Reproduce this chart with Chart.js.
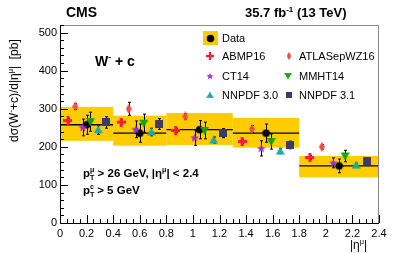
<!DOCTYPE html>
<html>
<head>
<meta charset="utf-8">
<script src="https://cdn.jsdelivr.net/npm/chart.js@4.4.1/dist/chart.umd.min.js"></script>
<style>
  html, body { margin: 0; padding: 0; background: #fff; }
  #wrap { width: 399px; height: 253px; }
</style>
</head>
<body>
<div id="wrap"><canvas id="wcChart" width="399" height="253"></canvas></div>
<script>
// bins in |eta|
var binEdges = [0, 0.4, 0.8, 1.3, 1.8, 2.4];

// measured cross section (pb)
var dataX   = [0.2, 0.6, 1.05, 1.55, 2.1];
var dataY   = [258, 236, 245, 236, 150];
var dataErr = [25, 24, 24, 24, 18];
var bandLo  = [216, 203, 205, 198, 120];
var bandHi  = [305, 282, 289, 276, 176];

// predictions
var abmpX  = [0.06, 0.46, 0.87, 1.37, 1.88];
var abmpY  = [269, 265, 243, 214, 172];
var abmpE  = [6, 6, 6, 6, 5];
var atlasX = [0.116, 0.517, 0.943, 1.444, 1.97];
var atlasY = [306, 300, 280, 247, 200];
var atlasE = [8, 17, 7, 9, 6];
var ct14X  = [0.172, 0.57, 1.013, 1.514, 2.057];
var ct14Y  = [251, 246, 224, 196, 158];
var ct14E  = [22, 22, 20, 20, 13];
var mmhtX  = [0.229, 0.63, 1.088, 1.589, 2.145];
var mmhtY  = [266, 262, 243, 214, 176];
var mmhtE  = [25, 24, 22, 20, 15];
var nn30X  = [0.287, 0.687, 1.156, 1.657, 2.228];
var nn30Y  = [245, 239, 218, 189, 152];
var nn30E  = [12, 10, 8, 7, 5];
var nn31X  = [0.344, 0.745, 1.23, 1.727, 2.313];
var nn31Y  = [264, 260, 236, 205, 163];
var nn31E  = [15, 14, 12, 10, 7];

var FONT = '"Liberation Sans", Arial, Helvetica, sans-serif';

function pts(xs, ys) {
    return xs.map(function (x, i) { return { x: x, y: ys[i] }; });
}

// little canvases used as point styles
function marker(w, h, draw) {
    var c = document.createElement('canvas');
    c.width = w; c.height = h;
    draw(c.getContext('2d'), w, h);
    return c;
}
var mkPlus = marker(9, 9, function (g) {
    g.fillStyle = '#ff1a3c';
    g.fillRect(3, 0, 3, 9);
    g.fillRect(0, 3, 9, 3);
});
var mkDiamond = marker(6, 10, function (g) {
    g.fillStyle = '#f24a4a';
    g.beginPath(); g.moveTo(3, 0); g.lineTo(6, 5); g.lineTo(3, 10); g.lineTo(0, 5); g.closePath(); g.fill();
});
var mkStar = marker(9, 9, function (g) {
    g.fillStyle = '#9a2fd0';
    g.beginPath();
    for (var i = 0; i < 10; i++) {
        var r = i % 2 ? 2 : 4.6;
        var a = -Math.PI / 2 + i * Math.PI / 5;
        g.lineTo(4.5 + r * Math.cos(a), 4.8 + r * Math.sin(a));
    }
    g.closePath(); g.fill();
});
var mkDown = marker(9, 9, function (g) {
    g.fillStyle = '#17a10f';
    g.beginPath(); g.moveTo(0, 1); g.lineTo(9, 1); g.lineTo(4.5, 9); g.closePath(); g.fill();
});
var mkUp = marker(9, 9, function (g) {
    g.fillStyle = '#20aaa4';
    g.beginPath(); g.moveTo(0, 8); g.lineTo(9, 8); g.lineTo(4.5, 0); g.closePath(); g.fill();
});
var mkSquare = marker(8, 8, function (g) {
    g.fillStyle = '#3b3b6b';
    g.fillRect(0, 0, 8, 8);
});
var mkDot = marker(9, 9, function (g) {
    g.fillStyle = '#000';
    g.beginPath(); g.arc(4.5, 4.5, 3.8, 0, Math.PI * 2); g.fill();
});

var series = [
    { label: 'ABMP16', x: abmpX, y: abmpY, e: abmpE, mk: mkPlus },
    { label: 'ATLASepWZ16', x: atlasX, y: atlasY, e: atlasE, mk: mkDiamond },
    { label: 'CT14', x: ct14X, y: ct14Y, e: ct14E, mk: mkStar },
    { label: 'MMHT14', x: mmhtX, y: mmhtY, e: mmhtE, mk: mkDown },
    { label: 'NNPDF 3.0', x: nn30X, y: nn30Y, e: nn30E, mk: mkUp },
    { label: 'NNPDF 3.1', x: nn31X, y: nn31Y, e: nn31E, mk: mkSquare },
    { label: 'Data', x: dataX, y: dataY, e: dataErr, mk: mkDot }
];

// text with superscripts / subscripts, pieces drawn one after the other
function richText(g, parts, x, y, size, bold) {
    var w = 0;
    parts.forEach(function (p) {
        var s = p.sup || p.sub ? size * 0.62 : size;
        g.font = (bold ? 'bold ' : '') + s + 'px ' + FONT;
        var dy = p.sup ? -size * 0.42 : (p.sub ? size * 0.28 : 0);
        g.fillText(p.t, x + w, y + dy);
        if (!p.stack) w += g.measureText(p.t).width;
    });
    return w;
}

var rootStyle = {
    id: 'rootStyle',
    beforeDatasetsDraw: function (chart) {
        var g = chart.ctx, xs = chart.scales.x, ys = chart.scales.y;
        g.save();
        // total uncertainty bands
        g.fillStyle = '#ffcc00';
        for (var i = 0; i < dataY.length; i++) {
            var x0 = xs.getPixelForValue(binEdges[i]), x1 = xs.getPixelForValue(binEdges[i + 1]);
            var y0 = ys.getPixelForValue(bandHi[i]), y1 = ys.getPixelForValue(bandLo[i]);
            g.fillRect(x0, y0, x1 - x0, y1 - y0);
        }
        // measured value as a line across the bin
        g.strokeStyle = '#000'; g.lineWidth = 1.3;
        for (i = 0; i < dataY.length; i++) {
            var yy = ys.getPixelForValue(dataY[i]);
            g.beginPath();
            g.moveTo(xs.getPixelForValue(binEdges[i]), yy);
            g.lineTo(xs.getPixelForValue(binEdges[i + 1]), yy);
            g.stroke();
        }
        // error bars
        g.lineWidth = 1;
        series.forEach(function (s) {
            for (var k = 0; k < s.x.length; k++) {
                var px = Math.round(xs.getPixelForValue(s.x[k])) + 0.5;
                var a = ys.getPixelForValue(s.y[k] + s.e[k]), b = ys.getPixelForValue(s.y[k] - s.e[k]);
                g.beginPath();
                g.moveTo(px, a); g.lineTo(px, b);
                g.moveTo(px - 1.5, a); g.lineTo(px + 1.5, a);
                g.moveTo(px - 1.5, b); g.lineTo(px + 1.5, b);
                g.stroke();
            }
        });
        g.restore();
    },
    afterDraw: function (chart) {
        var g = chart.ctx, a = chart.chartArea, xs = chart.scales.x, ys = chart.scales.y;
        g.save();
        // frame
        g.strokeStyle = '#000'; g.lineWidth = 1;
        g.beginPath();
        g.moveTo(a.left + 0.5, a.top); g.lineTo(a.left + 0.5, a.bottom + 0.5); g.lineTo(a.right, a.bottom + 0.5);
        g.stroke();
        g.strokeStyle = '#888';
        g.beginPath();
        g.moveTo(a.left, a.top + 0.5); g.lineTo(a.right - 0.5, a.top + 0.5); g.lineTo(a.right - 0.5, a.bottom);
        g.stroke();
        // inner ticks
        g.strokeStyle = '#000';
        g.beginPath();
        for (var v = 0; v <= 520.01; v += 20) {
            var py = Math.round(ys.getPixelForValue(v)) + 0.5;
            var len = v % 100 === 0 ? 8 : 4;
            g.moveTo(a.left, py); g.lineTo(a.left + len, py);
        }
        for (var t = 0; t <= 2.4001; t += 0.05) {
            var px = Math.round(xs.getPixelForValue(t)) + 0.5;
            var major = Math.abs(t / 0.2 - Math.round(t / 0.2)) < 1e-6;
            g.moveTo(px, a.bottom); g.lineTo(px, a.bottom - (major ? 8 : 4));
        }
        g.stroke();

        g.fillStyle = '#000';
        g.textBaseline = 'alphabetic';
        // header
        g.font = 'bold 14px ' + FONT;
        g.fillText('CMS', 66, 17);
        richText(g, [{ t: '35.7 fb' }, { t: '-1', sup: true }, { t: ' (13 TeV)' }], 245, 17, 13, true);

        // process label and cuts
        richText(g, [{ t: 'W' }, { t: '-', sup: true }, { t: ' + c' }], 95, 66, 14, true);
        richText(g, [{ t: 'p' }, { t: 'T', sub: true, stack: true }, { t: 'μ', sup: true }, { t: ' > 26 GeV, |η' }, { t: 'μ', sup: true }, { t: '| < 2.4' }], 83, 177, 11.5, true);
        richText(g, [{ t: 'p' }, { t: 'T', sub: true, stack: true }, { t: 'c', sup: true }, { t: ' > 5 GeV' }], 83, 194, 11.5, true);

        // axis titles
        g.save();
        g.translate(18, 142);
        g.rotate(-Math.PI / 2);
        richText(g, [{ t: 'dσ(W' }, { t: '-', sup: true }, { t: '+c)/d|η' }, { t: 'μ', sup: true }, { t: '|  [pb]' }], 0, 0, 12, false);
        g.restore();
        richText(g, [{ t: '|η' }, { t: 'μ', sup: true }, { t: '|' }], 350, 249, 12, false);

        // legend
        g.fillStyle = '#ffcc00';
        g.fillRect(203, 31, 15, 14);
        g.drawImage(mkDot, 206, 34);
        g.fillStyle = '#000';
        g.font = '11px ' + FONT;
        g.fillText('Data', 222, 42);
        var leg = [
            [mkPlus, 'ABMP16', 205, 222, 60], [mkDiamond, 'ATLASepWZ16', 284, 299, 60],
            [mkStar, 'CT14', 205, 222, 80], [mkDown, 'MMHT14', 283, 299, 80],
            [mkUp, 'NNPDF 3.0', 205, 222, 99], [mkSquare, 'NNPDF 3.1', 284, 299, 99]
        ];
        leg.forEach(function (l) {
            var w = l[0].width * 0.8, h = l[0].height * 0.8;
            g.drawImage(l[0], l[2] + (10 - w) / 2, l[4] - 4 - h / 2, w, h);
            g.fillText(l[1], l[3], l[4]);
        });
        g.restore();
    }
};

var ctxWc = document.getElementById('wcChart').getContext('2d');
var wcChart = new Chart(ctxWc, {
    type: 'scatter',
    data: {
        datasets: series.map(function (s) {
            return {
                label: s.label,
                data: pts(s.x, s.y),
                pointStyle: s.mk,
                pointRadius: 5,
                pointHoverRadius: 5,
                showLine: false
            };
        })
    },
    options: {
        responsive: false,
        animation: false,
        events: [],
        layout: { padding: { top: 25, right: 20, left: 0, bottom: 0 } },
        plugins: { legend: { display: false }, tooltip: { enabled: false } },
        scales: {
            x: {
                type: 'linear', min: 0, max: 2.4,
                grid: { display: false, drawTicks: false },
                border: { display: false },
                afterFit: function (s) { s.height = 30; },
                ticks: {
                    stepSize: 0.2, padding: 4, maxRotation: 0, autoSkip: false,
                    color: '#000', font: { family: FONT, size: 11 },
                    callback: function (v) { return Math.round(v * 10) / 10; }
                }
            },
            y: {
                min: 0, max: 520,
                grid: { display: false, drawTicks: false },
                border: { display: false },
                afterFit: function (s) { s.width = 60; },
                ticks: {
                    stepSize: 100, includeBounds: false, padding: 3,
                    color: '#000', font: { family: FONT, size: 11 }
                }
            }
        }
    },
    plugins: [rootStyle]
});
</script>
</body>
</html>
